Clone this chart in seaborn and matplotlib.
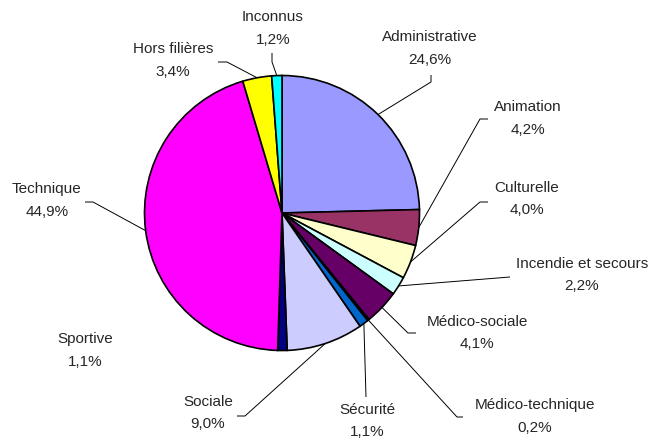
import numpy as np
import matplotlib
matplotlib.use("Agg")
import matplotlib.pyplot as plt
import seaborn as sns

# Répartition des agents par filière
categories = ["Administrative", "Animation", "Culturelle", "Incendie et secours",
              "Médico-sociale", "Médico-technique", "Sécurité", "Sociale",
              "Sportive", "Technique", "Hors filières", "Inconnus"]
values = [24.6, 4.2, 4.0, 2.2, 4.1, 0.2, 1.1, 9.0, 1.1, 44.9, 3.4, 1.2]
value_labels = ["24,6%", "4,2%", "4,0%", "2,2%", "4,1%", "0,2%",
                "1,1%", "9,0%", "1,1%", "44,9%", "3,4%", "1,2%"]
colors = ["#9999FF", "#993366", "#FFFFCC", "#CCFFFF", "#660066", "#FF8080",
          "#0066CC", "#CCCCFF", "#000080", "#FF00FF", "#FFFF00", "#00FFFF"]

W, H = 650, 438
sns.set_style("white")
plt.rcParams["font.family"] = ["Liberation Sans", "DejaVu Sans"]

fig = plt.figure(figsize=(W / 100, H / 100), dpi=100)
ax = fig.add_axes([0, 0, 1, 1])


def P(x, y):
    """Top-left origin pixel position -> data coordinates."""
    return x, H - y


cx, cy = P(282, 213)
R = 137.5
wedges, _ = ax.pie(values, colors=colors, startangle=90, counterclock=False,
                   center=(cx, cy), radius=R,
                   wedgeprops=dict(edgecolor="black", linewidth=1.2))
ax.set_xlim(0, W)
ax.set_ylim(0, H)
ax.set_aspect("equal")
ax.axis("off")

# label centre (x, y of first line) and leader-line path after the wedge edge
layout = {
    "Administrative": ((430, 37), [(431, 82), (431, 75)]),
    "Animation": ((528, 107), [(480, 119), (488, 119)]),
    "Culturelle": ((527, 188), [(480, 202), (488, 202)]),
    "Incendie et secours": ((582, 264), [(510, 277)]),
    "Médico-sociale": ((477, 322), [(408, 333), (416, 333)]),
    "Médico-technique": ((535, 405), [(457, 417), (463, 417)]),
    "Sécurité": ((367, 410), [(366, 397)]),
    "Sociale": ((208, 402), [(245, 416), (237, 416)]),
    "Sportive": ((85, 339), []),
    "Technique": ((47, 189), [(93, 202), (85, 202)]),
    "Hors filières": ((173, 49), [(227, 62), (218, 62)]),
    "Inconnus": ((273, 17), [(272, 62), (272, 53)]),
}

for w, name, lab in zip(wedges, categories, value_labels):
    (tx, ty), path = layout[name]
    ax.text(*P(tx, ty), name, ha="center", va="center", fontsize=11)
    ax.text(*P(tx, ty + 22.5), lab, ha="center", va="center", fontsize=11)
    if path:
        mid = np.deg2rad((w.theta1 + w.theta2) / 2)
        x0 = cx + R * np.cos(mid)
        y0 = cy + R * np.sin(mid)
        pts = [(x0, y0)] + [P(px, py) for px, py in path]
        xs, ys = zip(*pts)
        ax.plot(xs, ys, color="black", lw=0.7, solid_capstyle="butt")

fig.savefig("out.png", dpi=100)
